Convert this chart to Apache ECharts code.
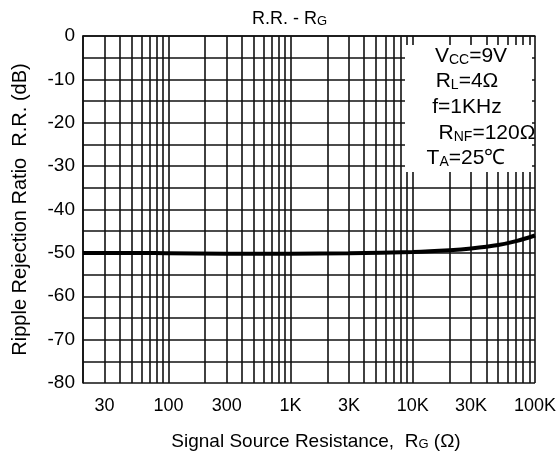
<!DOCTYPE html>
<html><head><meta charset="utf-8">
<script src="https://cdn.jsdelivr.net/npm/echarts@6/dist/echarts.min.js"></script>
<style>html,body{margin:0;padding:0;background:#fff}#c{width:559px;height:460px}</style>
</head><body><div id="c"></div>
<script>
// Data
const resistance = [20, 50, 100, 300, 1000, 3000, 10000, 20000, 30000, 50000, 70000, 100000];
const rejection  = [-50.0, -50.0, -50.1, -50.2, -50.2, -50.1, -49.8, -49.4, -49.0, -48.2, -47.3, -46.0];
const xLabelValues = [30, 100, 300, 1000, 3000, 10000, 30000, 100000];
const xLabelTexts  = ['30', '100', '300', '1K', '3K', '10K', '30K', '100K'];
const xGridValues = [20, 30, 40, 50, 60, 70, 80, 90,
  100, 200, 300, 400, 500, 600, 700, 800, 900,
  1000, 2000, 3000, 4000, 5000, 6000, 7000, 8000, 9000,
  10000, 20000, 30000, 40000, 50000, 60000, 70000, 80000, 90000, 100000];
const yTickLabels = ['0', '-10', '-20', '-30', '-40', '-50', '-60', '-70', '-80'];
const conditions = ['{n|V}{s|CC}{n|=9V}', '{n|R}{s|L}{n|=4Ω}', '{n|f=1KHz}', '{n|R}{s|NF}{n|=120Ω}', '{n|T}{s|A}{n|=25℃}'];

const FONT = 'Liberation Sans, Arial, sans-serif';
const chart = echarts.init(document.getElementById('c'), null, {renderer: 'canvas'});
const pts = resistance.map((r, i) => [r, rejection[i]]);

const condX = [471, 467, 467, 487, 466];
const condY = [55, 80, 106, 132, 157];

chart.setOption({
  animation: false,
  backgroundColor: '#fff',
  title: {
    text: '{n|R.R. - R}{s|G}',
    left: 252, top: 8, padding: 0,
    textStyle: {fontFamily: FONT, fontSize: 18, fontWeight: 'normal', color: '#000',
      rich: {
        n: {fontSize: 18, fontFamily: FONT, verticalAlign: 'bottom', color: '#000', lineHeight: 20},
        s: {fontSize: 13, fontFamily: FONT, verticalAlign: 'bottom', color: '#000', lineHeight: 18}
      }}
  },
  grid: {left: 83, right: 20, top: 36, bottom: 77, show: false},
  xAxis: {
    type: 'log', logBase: 10, min: 20, max: 100000,
    name: '{n|Signal Source Resistance,  R}{s|G}{n| (Ω)}',
    nameLocation: 'middle', nameGap: 46,
    nameTextStyle: {fontFamily: FONT, fontSize: 19, color: '#000', padding: [0, 0, 0, 14],
      rich: {
        n: {fontSize: 19, fontFamily: FONT, verticalAlign: 'bottom', color: '#000', lineHeight: 22},
        s: {fontSize: 13, fontFamily: FONT, verticalAlign: 'bottom', color: '#000', lineHeight: 19}
      }},
    axisLine: {show: true, lineStyle: {color: '#111', width: 1.6}},
    axisTick: {show: false, customValues: xGridValues},
    axisLabel: {
      customValues: xLabelValues,
      margin: 14, fontFamily: FONT, fontSize: 18, color: '#000',
      formatter: v => {
        const i = xLabelValues.findIndex(x => Math.abs(x - v) / x < 1e-6);
        return i >= 0 ? xLabelTexts[i] : '';
      }
    },
    splitLine: {show: true, lineStyle: {color: '#111', width: 1.6}},
    minorTick: {show: false}, minorSplitLine: {show: false}
  },
  yAxis: {
    type: 'value', min: -80, max: 0, interval: 5,
    name: 'Ripple Rejection Ratio  R.R. (dB)',
    nameLocation: 'middle', nameGap: 53, nameRotate: 90,
    nameTextStyle: {fontFamily: FONT, fontSize: 20, color: '#000'},
    axisLine: {show: true, lineStyle: {color: '#111', width: 1.6}},
    axisTick: {show: false},
    axisLabel: {
      margin: 8, fontFamily: FONT, fontSize: 19, color: '#000',
      formatter: v => (Math.round(v) % 10 === 0 ? yTickLabels[Math.round(-v / 10)] : '')
    },
    splitLine: {show: true, lineStyle: {color: '#111', width: 1.6}}
  },
  graphic: [
    {type: 'rect', z: 50, shape: {x: 405, y: 45, width: 127, height: 127}, style: {fill: '#fff'}}
  ].concat(conditions.map((t, i) => ({
    type: 'text', z: 60, x: condX[i], y: condY[i],
    style: {text: t, align: 'center', verticalAlign: 'middle',
      rich: {
        n: {fontSize: 21, fontFamily: FONT, verticalAlign: 'bottom', fill: '#000', lineHeight: 24},
        s: {fontSize: 14, fontFamily: FONT, verticalAlign: 'bottom', fill: '#000', lineHeight: 20}
      }}
  }))),
  series: [{
    type: 'line', data: pts, smooth: 0.3, showSymbol: false, z: 10,
    lineStyle: {color: '#000', width: 4}
  }]
});
</script></body></html>
